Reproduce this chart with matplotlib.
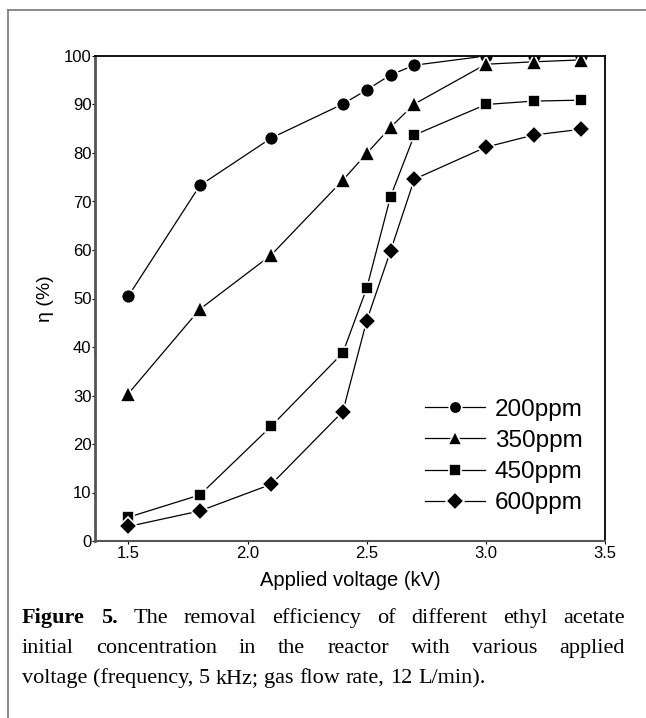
import matplotlib
matplotlib.use("Agg")
import matplotlib.pyplot as plt
from matplotlib.lines import Line2D

voltage = [1.5, 1.8, 2.1, 2.4, 2.5, 2.6, 2.7, 3.0, 3.2, 3.4]
eta_200 = [50.5, 73.3, 83.1, 90.1, 93.0, 96.1, 98.1, 100.0, 100.0, 100.0]
eta_350 = [30.4, 47.8, 59.0, 74.4, 79.9, 85.3, 90.1, 98.3, 98.8, 99.2]
eta_450 = [4.9, 9.5, 23.7, 38.8, 52.1, 71.0, 83.7, 90.0, 90.7, 90.9]
eta_600 = [3.0, 6.2, 11.7, 26.7, 45.4, 59.8, 74.6, 81.2, 83.7, 84.9]
labels = ["200ppm", "350ppm", "450ppm", "600ppm"]
xticks = [1.5, 2.0, 2.5, 3.0, 3.5]
yticks = [0, 10, 20, 30, 40, 50, 60, 70, 80, 90, 100]

caption_lines = [
    [("Figure", True), ("5.", True), ("The", False), ("removal", False), ("efficiency", False),
     ("of", False), ("different", False), ("ethyl", False), ("acetate", False)],
    [("initial", False), ("concentration", False), ("in", False), ("the", False), ("reactor", False),
     ("with", False), ("various", False), ("applied", False)],
    [("voltage", False), ("(frequency,", False), ("5", False), ("kHz;", False), ("gas", False),
     ("flow", False), ("rate,", False), ("12", False), ("L/min).", False)],
]

W, H = 646, 718
fig = plt.figure(figsize=(W / 100, H / 100), dpi=100)
fig.patch.set_facecolor("white")

# outer border (left & top visible)
fig.add_artist(Line2D([8 / W, 8 / W], [0, 1 - 10 / H], transform=fig.transFigure,
                      color="#808080", lw=1.3))
fig.add_artist(Line2D([8 / W, 1], [1 - 10 / H, 1 - 10 / H], transform=fig.transFigure,
                      color="#808080", lw=1.3))

ax = fig.add_axes([95 / W, 177 / H, 510 / W, 485 / H])
sans = "Liberation Sans"

series = [eta_200, eta_350, eta_450, eta_600]
markers = ["o", "^", "s", "D"]
msizes = [10, 12, 8.5, 9.5]
for ys, m, ms, lab in zip(series, markers, msizes, labels):
    ax.plot(voltage, ys, color="black", lw=0.9, marker=m, markersize=ms,
            markerfacecolor="black", markeredgecolor="white", markeredgewidth=1.2,
            label=lab, clip_on=True)

ax.set_xlim(1.36, 3.5)
ax.set_ylim(0, 100)
ax.set_xticks(xticks)
ax.set_xticklabels([f"{v:.1f}" for v in xticks], fontfamily=sans, fontsize=12)
ax.set_yticks(yticks)
ax.set_yticklabels([str(v) for v in yticks], fontfamily=sans, fontsize=12)
ax.tick_params(axis="both", direction="out", length=2, width=0.8, pad=1.5, colors="black")
ax.tick_params(axis="y", pad=0.5)

for s in ["top", "right"]:
    ax.spines[s].set_color("black")
    ax.spines[s].set_linewidth(1.3)
ax.spines["left"].set_color("#555555")
ax.spines["left"].set_linewidth(2.0)
ax.spines["bottom"].set_color("#555555")
ax.spines["bottom"].set_linewidth(1.5)

ax.set_xlabel("Applied voltage (kV)", fontfamily=sans, fontsize=14.5, labelpad=7)
ax.set_ylabel("η (%)", fontfamily=sans, fontsize=14, labelpad=7)

leg = ax.legend(loc="center", bbox_to_anchor=(0.802, 0.174), frameon=False,
                prop={"family": sans, "size": 17.5}, handlelength=2.45,
                handletextpad=0.4, labelspacing=0.38, borderpad=0, borderaxespad=0)
for h, ms in zip(leg.legend_handles, [9, 10.5, 8, 9]):
    h.set_markersize(ms)

# justified caption
serif = "Liberation Serif"
fs = 16
x_left, x_right = 22, 625
baselines = [623, 653, 683]
fig.canvas.draw()
renderer = fig.canvas.get_renderer()
for li, (words, yb) in enumerate(zip(caption_lines, baselines)):
    texts = []
    for w, bold in words:
        t = fig.text(0, 1 - yb / H, w, fontfamily=serif, fontsize=fs,
                     fontweight="bold" if bold else "normal", va="baseline", ha="left")
        texts.append(t)
    widths = [t.get_window_extent(renderer).width for t in texts]
    if li < len(caption_lines) - 1:
        gap = (x_right - x_left - sum(widths)) / (len(words) - 1)
    else:
        sp = fig.text(0, 0, "a b", fontfamily=serif, fontsize=fs)
        sp2 = fig.text(0, 0, "ab", fontfamily=serif, fontsize=fs)
        gap = sp.get_window_extent(renderer).width - sp2.get_window_extent(renderer).width
        sp.remove(); sp2.remove()
    x = x_left
    for t, w in zip(texts, widths):
        t.set_x(x / W)
        x += w + gap

fig.savefig("out.png", dpi=100, facecolor="white")
